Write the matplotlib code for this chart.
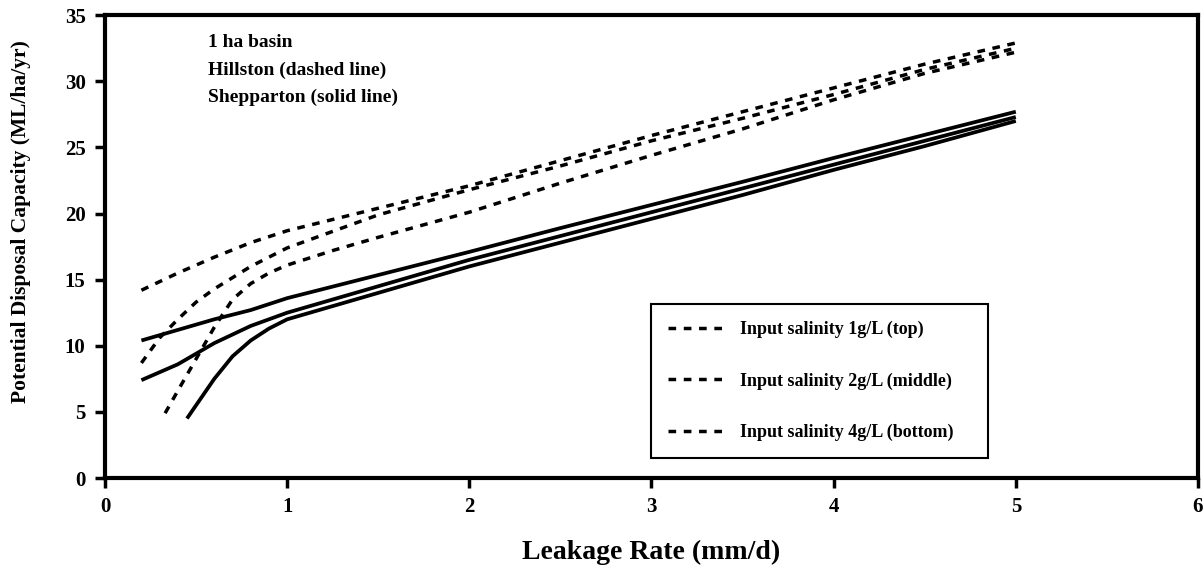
import numpy as np
import matplotlib
matplotlib.use('Agg')
import matplotlib.pyplot as plt

plt.rcParams['font.family'] = ['Liberation Serif', 'DejaVu Serif']
plt.rcParams['font.weight'] = 'bold'

# Hillston (dashed lines), leakage rate (mm/d) vs capacity (ML/ha/yr)
hill_top_x = [0.2, 0.4, 0.6, 0.8, 1.0, 1.5, 2.0, 2.5, 3.0, 3.5, 4.0, 4.5, 5.0]
hill_top_y = [14.2, 15.5, 16.7, 17.8, 18.7, 20.4, 22.1, 24.0, 25.9, 27.7, 29.5, 31.3, 32.9]

hill_mid_x = [0.2, 0.3, 0.4, 0.5, 0.6, 0.8, 1.0, 1.5, 2.0, 2.5, 3.0, 3.5, 4.0, 4.5, 5.0]
hill_mid_y = [8.7, 10.6, 12.0, 13.3, 14.3, 16.0, 17.4, 19.9, 21.8, 23.6, 25.5, 27.2, 29.0, 30.9, 32.5]

hill_bot_x = [0.33, 0.4, 0.5, 0.6, 0.7, 0.8, 0.9, 1.0, 1.25, 1.5, 2.0, 2.5, 3.0, 3.5, 4.0, 4.5, 5.0]
hill_bot_y = [4.9, 6.6, 9.0, 11.4, 13.5, 14.7, 15.5, 16.1, 17.2, 18.2, 20.1, 22.3, 24.4, 26.4, 28.6, 30.6, 32.2]

# Shepparton (solid lines)
shep_top_x = [0.2, 0.4, 0.6, 0.8, 1.0, 1.5, 2.0, 2.5, 3.0, 3.5, 4.0, 4.5, 5.0]
shep_top_y = [10.4, 11.2, 12.0, 12.7, 13.6, 15.35, 17.1, 18.9, 20.65, 22.4, 24.2, 25.95, 27.7]

shep_mid_x = [0.2, 0.4, 0.6, 0.8, 1.0, 1.5, 2.0, 2.5, 3.0, 3.5, 4.0, 4.5, 5.0]
shep_mid_y = [7.4, 8.6, 10.2, 11.5, 12.5, 14.5, 16.5, 18.3, 20.1, 21.9, 23.7, 25.5, 27.3]

shep_bot_x = [0.45, 0.5, 0.6, 0.7, 0.8, 0.9, 1.0, 1.25, 1.5, 2.0, 2.5, 3.0, 3.5, 4.0, 4.5, 5.0]
shep_bot_y = [4.5, 5.5, 7.5, 9.2, 10.4, 11.3, 12.0, 13.0, 14.0, 16.0, 17.8, 19.6, 21.4, 23.3, 25.1, 27.0]

legend_labels = ['Input salinity 1g/L (top)', 'Input salinity 2g/L (middle)',
                 'Input salinity 4g/L (bottom)']
notes = ['1 ha basin', 'Hillston (dashed line)', 'Shepparton (solid line)']

fig = plt.figure(figsize=(12.04, 5.84), dpi=100)
ax = fig.add_axes([0.0872, 0.1815, 0.9078, 0.7925])

dash = (0, (2.2, 2.2))
handles = []
for xs, ys, lab in zip([hill_top_x, hill_mid_x, hill_bot_x],
                       [hill_top_y, hill_mid_y, hill_bot_y], legend_labels):
    h, = ax.plot(xs, ys, color='black', lw=2.5, linestyle=dash, label=lab)
    handles.append(h)
for xs, ys in zip([shep_top_x, shep_mid_x, shep_bot_x],
                  [shep_top_y, shep_mid_y, shep_bot_y]):
    ax.plot(xs, ys, color='black', lw=2.7, solid_capstyle='butt')

ax.set_xlim(0, 6)
ax.set_ylim(0, 35)
ax.set_xticks(range(0, 7))
ax.set_yticks(range(0, 36, 5))
for s in ax.spines.values():
    s.set_linewidth(3)
ax.tick_params(direction='out', length=7, width=2.5, labelsize=15, pad=7)
for t in ax.get_xticklabels() + ax.get_yticklabels():
    t.set_fontweight('bold')

ax.set_xlabel('Leakage Rate (mm/d)', fontsize=20, fontweight='bold', labelpad=16)
ax.set_ylabel('Potential Disposal Capacity (ML/ha/yr)', fontsize=15.5, fontweight='bold')
ax.yaxis.set_label_coords(-0.068, 0.555)

ax.text(0.094, 0.94, notes[0], transform=ax.transAxes, fontsize=14, fontweight='bold', va='center')
ax.text(0.094, 0.881, notes[1], transform=ax.transAxes, fontsize=14, fontweight='bold', va='center')
ax.text(0.094, 0.823, notes[2], transform=ax.transAxes, fontsize=14, fontweight='bold', va='center')

leg = ax.legend(handles=handles, loc='center', bbox_to_anchor=(0.4995, 0.041, 0.3085, 0.337),
                mode='expand', fontsize=13, handlelength=3.1, handletextpad=0.9,
                labelspacing=1.9, borderpad=0.95, borderaxespad=0, fancybox=False,
                edgecolor='black', framealpha=1)
leg.get_frame().set_linewidth(1.5)
for t in leg.get_texts():
    t.set_fontweight('bold')

fig.savefig('out.png', dpi=100)
